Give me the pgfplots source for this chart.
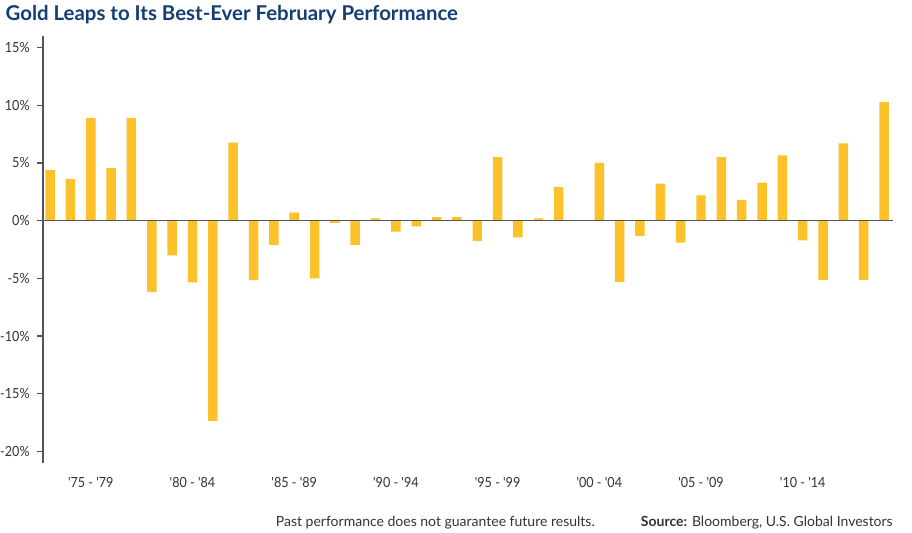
\documentclass[border=0pt]{standalone}
\usepackage{pgfplots}
\pgfplotsset{compat=1.18}
\usepackage{fontspec}
\setmainfont{Lato}
\newfontfamily\condfont[FakeStretch=0.9]{Lato}
\definecolor{goldbar}{HTML}{FDC12A}
\definecolor{titleblue}{HTML}{123E74}
\definecolor{axisgray}{HTML}{555555}
\definecolor{txtgray}{HTML}{333333}
\begin{document}
\begin{tikzpicture}
\useasboundingbox (0,0) rectangle (684pt,399pt);
\begin{axis}[
  at={(32.25pt,51.75pt)}, anchor=south west,
  scale only axis, width=637.5pt, height=320.25pt,
  xmin=1974.65, xmax=2016.44, ymin=-21, ymax=16,
  axis y line*=left, axis x line*=bottom,
  x axis line style={draw=none},
  y axis line style={axisgray, line width=1.2pt},
  ytick={-20,-15,-10,-5,0,5,10,15},
  yticklabels={-20\%,-15\%,-10\%,-5\%,0\%,5\%,10\%,15\%},
  ytick style={axisgray, line width=0.9pt},
  major tick length=4.5pt,
  tick align=outside,
  xtick={1977,1982,1987,1992,1997,2002,2007,2012},
  xticklabels={'75 - '79,'80 - '84,'85 - '89,'90 - '94,'95 - '99,'00 - '04,'05 - '09,'10 - '14},
  x tick style={draw=none},
  xticklabel style={font=\condfont\fontsize{10.5pt}{12pt}\selectfont, txtgray, yshift=-2.5pt},
  yticklabel style={font=\condfont\fontsize{10.5pt}{12pt}\selectfont, txtgray, xshift=-2pt},
  /pgf/number format/assume math mode=true,
  clip=false,
]
\addplot[ybar, bar width=7.1pt, fill=goldbar, draw=none] coordinates {
(1975,4.4) (1976,3.6) (1977,8.9) (1978,4.55) (1979,8.9)
(1980,-6.2) (1981,-3.0) (1982,-5.35) (1983,-17.35) (1984,6.75)
(1985,-5.15) (1986,-2.1) (1987,0.7) (1988,-5.0) (1989,-0.2)
(1990,-2.1) (1991,0.2) (1992,-0.95) (1993,-0.5) (1994,0.3)
(1995,0.3) (1996,-1.75) (1997,5.5) (1998,-1.45) (1999,0.2)
(2000,2.9) (2001,0.05) (2002,5.0) (2003,-5.3) (2004,-1.35)
(2005,3.2) (2006,-1.9) (2007,2.2) (2008,5.5) (2009,1.8)
(2010,3.3) (2011,5.65) (2012,-1.7) (2013,-5.15) (2014,6.7)
(2015,-5.15) (2016,10.3)
};
\draw[axisgray, line width=1.2pt] (axis cs:1974.65,0) -- (axis cs:2016.44,0);
\end{axis}
\node[anchor=base west, inner sep=0, text=titleblue, font=\fontsize{15.3pt}{18pt}\selectfont\bfseries] at (4pt,383.25pt) {Gold Leaps to Its Best-Ever February Performance};
\node[anchor=base east, inner sep=0, text=txtgray, font=\fontsize{10.5pt}{12pt}\selectfont] at (446.25pt,4.5pt) {Past performance does not guarantee future results.};
\node[anchor=base east, inner sep=0, text=txtgray, font=\fontsize{10.5pt}{12pt}\selectfont] at (669.75pt,4.5pt) {\textbf{Source:} Bloomberg, U.S. Global Investors};
\end{tikzpicture}
\end{document}
